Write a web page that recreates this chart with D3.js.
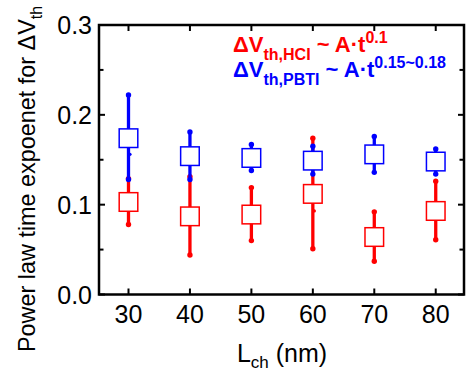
<!DOCTYPE html>
<html><head><meta charset="utf-8">
<script src="https://cdn.jsdelivr.net/npm/d3@7"></script>
<style>html,body{margin:0;padding:0;background:#fff;}svg{display:block;}</style>
</head><body>
<script>
const lengths = [30, 40, 50, 60, 70, 80];
const hciMean = [0.103, 0.087, 0.089, 0.112, 0.064, 0.093];
const hciMin  = [0.078, 0.044, 0.060, 0.051, 0.037, 0.061];
const hciMax  = [0.129, 0.131, 0.119, 0.174, 0.092, 0.126];
const pbtiMean = [0.174, 0.154, 0.152, 0.149, 0.156, 0.148];
const pbtiMin  = [0.128, 0.128, 0.138, 0.134, 0.136, 0.134];
const pbtiMax  = [0.222, 0.181, 0.167, 0.165, 0.176, 0.162];
const hciExtraL = [60], hciExtraV = [0.093];
const pbtiExtraL = [30], pbtiExtraV = [0.156];
const yTicks = [0.0, 0.1, 0.2, 0.3];
const yMinor = [0.05, 0.15, 0.25];

const W = 468, H = 371;
const font = "'Liberation Sans', Arial, sans-serif";
const svg = d3.select("body").append("svg").attr("width", W).attr("height", H);

const x = d3.scaleLinear().domain([25.2, 84.6]).range([99, 464]);
const y = d3.scaleLinear().domain([0, 0.3]).range([294.5, 25]);

const series = [
  {color: "#ff0000", mean: hciMean, min: hciMin, max: hciMax, exL: hciExtraL, exV: hciExtraV},
  {color: "#0000ff", mean: pbtiMean, min: pbtiMin, max: pbtiMax, exL: pbtiExtraL, exV: pbtiExtraV}
];

const gData = svg.append("g");
series.forEach(s => {
  const g = gData.append("g");
  const d = lengths.map((L, i) => ({L, m: s.mean[i], lo: s.min[i], hi: s.max[i]}));
  g.selectAll("line.w").data(d).enter().append("line")
    .attr("x1", e => x(e.L)).attr("x2", e => x(e.L))
    .attr("y1", e => y(e.lo)).attr("y2", e => y(e.hi))
    .attr("stroke", s.color).attr("stroke-width", 3.3);
  g.selectAll("circle.lo").data(d).enter().append("circle")
    .attr("cx", e => x(e.L)).attr("cy", e => y(e.lo)).attr("r", 2.7).attr("fill", s.color);
  g.selectAll("circle.hi").data(d).enter().append("circle")
    .attr("cx", e => x(e.L)).attr("cy", e => y(e.hi)).attr("r", 2.7).attr("fill", s.color);
  g.selectAll("circle.ex").data(s.exL.map((L, i) => ({L, v: s.exV[i]}))).enter().append("circle")
    .attr("cx", e => x(e.L) + 1.5).attr("cy", e => y(e.v)).attr("r", 1.6).attr("fill", s.color);
  g.selectAll("rect").data(d).enter().append("rect")
    .attr("x", e => x(e.L) - 9.3).attr("y", e => y(e.m) - 9.3)
    .attr("width", 18.6).attr("height", 18.6)
    .attr("fill", "#fff").attr("stroke", s.color).attr("stroke-width", 1.5);
});

// axes frame
const ax = svg.append("g").attr("stroke", "#000").attr("stroke-width", 2.5).attr("fill", "none");
ax.append("rect").attr("x", 99).attr("y", 25).attr("width", 464 - 99).attr("height", 294.5 - 25);

// x ticks bottom and top (inward)
lengths.forEach(L => {
  ax.append("line").attr("x1", x(L)).attr("x2", x(L)).attr("y1", 294.5).attr("y2", 288.5).attr("stroke-width", 2);
  ax.append("line").attr("x1", x(L)).attr("x2", x(L)).attr("y1", 25).attr("y2", 31).attr("stroke-width", 2);
});
yTicks.forEach(v => {
  ax.append("line").attr("x1", 99).attr("x2", 105).attr("y1", y(v)).attr("y2", y(v)).attr("stroke-width", 2);
  ax.append("line").attr("x1", 464).attr("x2", 458).attr("y1", y(v)).attr("y2", y(v)).attr("stroke-width", 2);
});
yMinor.forEach(v => {
  ax.append("line").attr("x1", 99).attr("x2", 103.5).attr("y1", y(v)).attr("y2", y(v)).attr("stroke-width", 2);
  ax.append("line").attr("x1", 464).attr("x2", 459.5).attr("y1", y(v)).attr("y2", y(v)).attr("stroke-width", 2);
});

// tick labels
svg.append("g").selectAll("text").data(yTicks).enter().append("text")
  .attr("x", 92).attr("y", v => y(v)).attr("dy", "0.36em")
  .attr("text-anchor", "end").attr("font-family", font).attr("font-size", 25).attr("fill", "#000")
  .text(v => v.toFixed(1));
svg.append("g").selectAll("text").data(lengths).enter().append("text")
  .attr("x", L => x(L)).attr("y", 323)
  .attr("text-anchor", "middle").attr("font-family", font).attr("font-size", 25).attr("fill", "#000")
  .text(L => L);

// x label
const xl = svg.append("text").attr("x", 282).attr("y", 362).attr("text-anchor", "middle")
  .attr("font-family", font).attr("font-size", 25).attr("fill", "#000");
xl.append("tspan").text("L");
xl.append("tspan").attr("font-size", 17).attr("dy", 6).text("ch");
xl.append("tspan").attr("dy", -6).text(" (nm)");

// y label
const yl = svg.append("text").attr("transform", "translate(35,352) rotate(-90)")
  .attr("text-anchor", "start").attr("font-family", font).attr("font-size", 23.4).attr("fill", "#000");
yl.append("tspan").text("Power law time expoenet for ΔV");
yl.append("tspan").attr("font-size", 16).attr("dy", 7).text("th");

// legend
function legendLine(yb, color, sub, sup) {
  const t = svg.append("text").attr("x", 233).attr("y", yb).attr("font-family", font)
    .attr("font-weight", "bold").attr("font-size", 22).attr("fill", color);
  t.append("tspan").text("ΔV");
  t.append("tspan").attr("font-size", 16).attr("dy", 8).text(sub);
  t.append("tspan").attr("dy", -8).text(" ~ A·t");
  t.append("tspan").attr("font-size", 16).attr("dy", -9).text(sup);
}
legendLine(51.7, "#ff0000", "th,HCI", "0.1");
legendLine(76.7, "#0000ff", "th,PBTI", "0.15~0.18");
</script>
</body></html>
